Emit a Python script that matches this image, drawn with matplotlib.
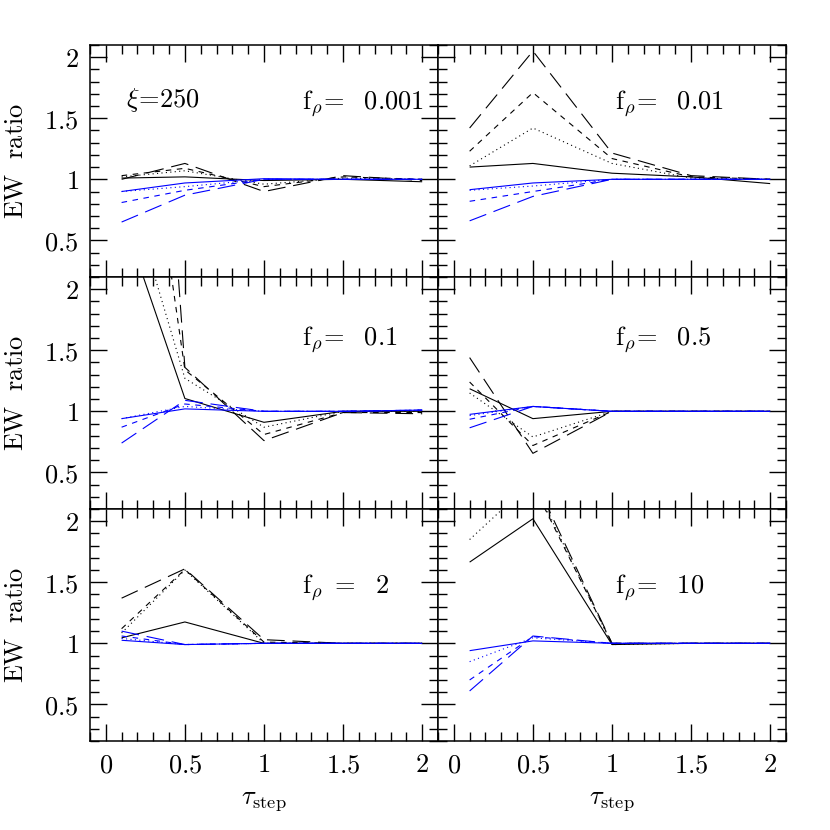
import numpy as np
import matplotlib
matplotlib.use("Agg")
import matplotlib.pyplot as plt
from matplotlib.ticker import MultipleLocator, FuncFormatter

plt.rcParams['mathtext.fontset'] = 'cm'
plt.rcParams['font.family'] = 'serif'
plt.rcParams['font.serif'] = ['DejaVu Serif']

tau = [0.1, 0.5, 1.0, 1.5, 2.0]

f_labels = ["0.001", "0.01", "0.1", "0.5", "2", "10"]

# black curves (solid, dotted, short dash, long dash), one row per panel
k_solid = [
    [1.01, 1.02, 0.99, 1.00, 0.98],
    [1.10, 1.13, 1.05, 1.02, 0.965],
    [2.62, 1.105, 0.91, 1.00, 1.00],
    [1.185, 0.94, 1.00, 1.00, 1.00],
    [1.045, 1.175, 1.00, 1.00, 1.00],
    [1.665, 2.02, 0.99, 1.00, 1.00],
]
k_dot = [
    [1.02, 1.07, 0.96, 1.01, 1.00],
    [1.11, 1.42, 1.13, 1.01, 1.00],
    [3.02, 1.27, 0.87, 1.00, 1.00],
    [1.15, 0.79, 1.00, 1.00, 1.00],
    [1.085, 1.60, 1.00, 1.00, 1.00],
    [1.85, 2.33, 0.99, 1.00, 1.00],
]
k_sdash = [
    [1.03, 1.09, 0.94, 1.02, 1.00],
    [1.23, 1.71, 1.17, 1.02, 1.00],
    [4.95, 1.34, 0.81, 0.99, 0.99],
    [1.24, 0.72, 1.00, 1.00, 1.00],
    [1.12, 1.605, 1.01, 1.00, 1.00],
    [2.90, 2.30, 1.00, 1.00, 1.00],
]
k_ldash = [
    [1.00, 1.13, 0.90, 1.03, 0.99],
    [1.42, 2.05, 1.215, 1.03, 1.00],
    [8.50, 1.36, 0.76, 0.99, 0.98],
    [1.44, 0.656, 1.00, 1.00, 1.00],
    [1.37, 1.61, 1.03, 1.00, 1.00],
    [3.30, 2.37, 1.00, 1.00, 1.00],
]

# blue curves
b_solid = [
    [0.90, 0.97, 1.005, 1.00, 1.00],
    [0.915, 0.97, 1.00, 1.00, 1.00],
    [0.94, 1.02, 1.00, 1.00, 1.01],
    [0.975, 1.04, 1.00, 1.00, 1.00],
    [1.025, 0.99, 1.00, 1.00, 1.00],
    [0.94, 1.02, 1.00, 1.00, 1.00],
]
b_dot = [
    [0.90, 0.94, 1.00, 1.00, 1.00],
    [0.91, 0.945, 1.00, 1.00, 1.00],
    [0.94, 1.04, 1.00, 1.00, 1.01],
    [0.965, 1.04, 1.00, 1.00, 1.00],
    [1.04, 0.99, 1.00, 1.00, 1.00],
    [0.85, 1.045, 1.00, 1.00, 1.00],
]
b_sdash = [
    [0.81, 0.91, 1.00, 1.00, 1.00],
    [0.82, 0.90, 1.00, 1.00, 1.00],
    [0.87, 1.06, 1.00, 1.00, 1.01],
    [0.935, 1.04, 1.00, 1.00, 1.00],
    [1.06, 0.99, 1.00, 1.00, 1.00],
    [0.70, 1.055, 1.00, 1.00, 1.00],
]
b_ldash = [
    [0.65, 0.87, 1.00, 1.00, 1.00],
    [0.66, 0.86, 1.00, 1.00, 1.00],
    [0.74, 1.09, 1.00, 1.00, 1.01],
    [0.865, 1.04, 1.00, 1.00, 1.00],
    [1.10, 0.99, 1.00, 1.00, 1.00],
    [0.61, 1.06, 1.00, 1.00, 1.00],
]

styles = [
    (0, ()),
    (0, (1, 3)),
    (0, (5, 5)),
    (0, (16, 7)),
]

fs = 19
fmt = FuncFormatter(lambda v, p: r"$%g$" % v)

fig, axes = plt.subplots(3, 2, figsize=(8.3, 8.3), dpi=100, sharex=True, sharey=True)
fig.subplots_adjust(left=0.1084, right=0.947, top=0.9458, bottom=0.1072,
                    hspace=0, wspace=0)

for i, ax in enumerate(axes.flat):
    for ls, ys in zip(styles, (k_solid[i], k_dot[i], k_sdash[i], k_ldash[i])):
        ax.plot(tau, ys, color="black", lw=0.8, linestyle=ls)
    for ls, ys in zip(styles, (b_solid[i], b_dot[i], b_sdash[i], b_ldash[i])):
        ax.plot(tau, ys, color="#0000ff", lw=0.8, linestyle=ls)

    ax.set_xlim(-0.1, 2.1)
    ax.set_ylim(0.2, 2.1)
    ax.xaxis.set_major_locator(MultipleLocator(0.5))
    ax.xaxis.set_minor_locator(MultipleLocator(0.1))
    ax.yaxis.set_major_locator(MultipleLocator(0.5))
    ax.yaxis.set_minor_locator(MultipleLocator(0.1))
    ax.xaxis.set_major_formatter(fmt)
    ax.yaxis.set_major_formatter(fmt)
    ax.tick_params(which="both", direction="in", top=True, right=True,
                   labelsize=fs, width=1.0, pad=8)
    ax.tick_params(which="major", length=12.5)
    ax.tick_params(which="minor", length=6.5)
    for sp in ax.spines.values():
        sp.set_linewidth(1.1)

    col = i % 2
    row = i // 2
    if col == 0:
        ax.set_ylabel(r"$\mathrm{EW\ \ ratio}$", fontsize=fs, labelpad=12)
        tx = 1.24
    else:
        tx = 1.02
    ty = [1.58, 1.545, 1.42][row]
    eq = r"$\mathrm{f}_\rho\ =\ \ $" if i == 4 else r"$\mathrm{f}_\rho\!=\ \ $"
    ax.text(tx, ty, eq + r"$%s$" % f_labels[i], fontsize=fs)
    if row == 2:
        ax.set_xlabel(r"$\tau_{\mathrm{step}}$", fontsize=fs, labelpad=8)

axes[0, 0].text(0.13, 1.59, r"$\xi\!=\!250$", fontsize=fs)

fig.savefig("out.png", dpi=100)
